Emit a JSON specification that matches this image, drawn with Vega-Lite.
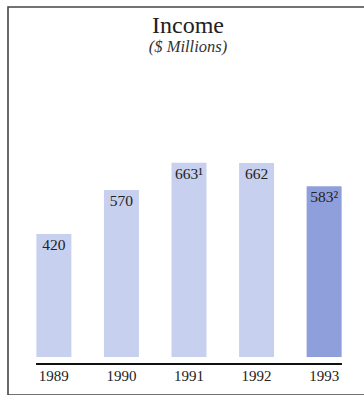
{
  "$schema": "https://vega.github.io/schema/vega-lite/v6.json",
  "width": 362,
  "height": 388,
  "autosize": "none",
  "padding": {"left": 8, "top": 7, "right": 0, "bottom": 0},
  "background": "white",
  "config": {
    "view": {"stroke": "#444", "strokeWidth": 1.6},
    "font": "Liberation Serif"
  },
  "title": {
    "text": "Income",
    "subtitle": "($ Millions)",
    "anchor": "middle",
    "dx": -1,
    "offset": -48,
    "font": "Liberation Serif",
    "fontSize": 24,
    "fontWeight": "normal",
    "color": "#222",
    "subtitleFont": "Liberation Serif",
    "subtitleFontSize": 16.5,
    "subtitleFontStyle": "italic",
    "subtitleColor": "#333",
    "subtitlePadding": 1
  },
  "data": {
    "values": [
      {"year": "1989", "income": 420, "label": "420", "kind": "a"},
      {"year": "1990", "income": 570, "label": "570", "kind": "a"},
      {"year": "1991", "income": 663, "label": "663¹", "kind": "a"},
      {"year": "1992", "income": 662, "label": "662", "kind": "a"},
      {"year": "1993", "income": 583, "label": "583²", "kind": "b"}
    ]
  },
  "encoding": {
    "x": {
      "field": "year",
      "type": "nominal",
      "scale": {"paddingInner": 0.482, "paddingOuter": 0.42},
      "axis": {
        "title": null,
        "domain": false,
        "ticks": false,
        "tickSize": 0,
        "labelPadding": 0,
        "offset": -27,
        "labelAngle": 0,
        "labelBaseline": "top",
        "labelFont": "Liberation Serif",
        "labelFontSize": 15,
        "labelColor": "#222",
        "grid": false
      }
    }
  },
  "layer": [
    {
      "mark": {"type": "bar"},
      "encoding": {
        "y": {
          "field": "income",
          "type": "quantitative",
          "scale": {"domain": [-130, 1195], "nice": false, "zero": false},
          "axis": null
        },
        "y2": {"datum": 0},
        "color": {
          "field": "kind",
          "type": "nominal",
          "scale": {"domain": ["a", "b"], "range": ["#c7d0ee", "#8f9fdc"]},
          "legend": null
        }
      }
    },
    {
      "mark": {"type": "text", "baseline": "top", "align": "center", "dy": 4, "font": "Liberation Serif", "fontSize": 15.5, "color": "#222"},
      "encoding": {
        "y": {"field": "income", "type": "quantitative"},
        "text": {"field": "label"}
      }
    },
    {
      "mark": {"type": "rule", "color": "#111", "strokeWidth": 1.5},
      "encoding": {
        "x": {"datum": "1989", "bandPosition": 0},
        "x2": {"datum": "1993", "bandPosition": 1},
        "y": {"datum": -24}
      }
    }
  ]
}
